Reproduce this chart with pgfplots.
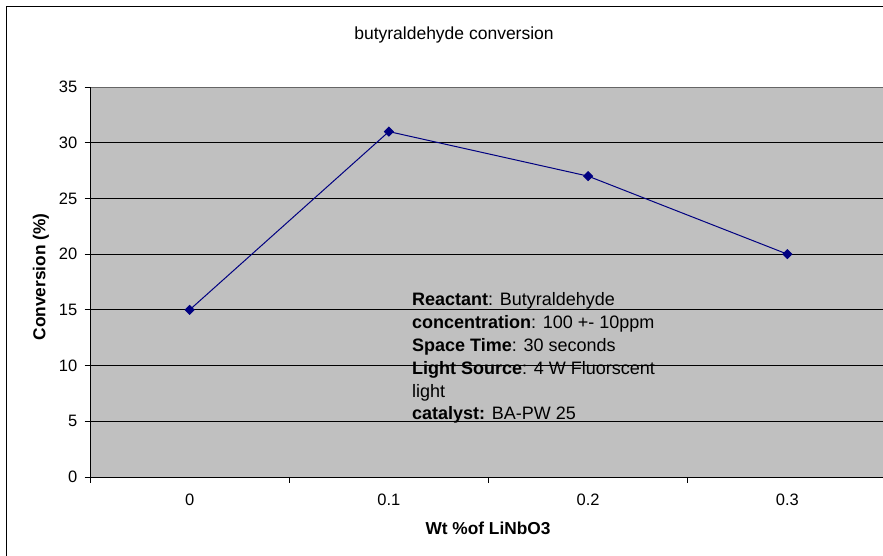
\documentclass[border=0pt]{standalone}
\usepackage{pgfplots}
\pgfplotsset{compat=1.18}
\usepackage{fontspec}
\setmainfont{Liberation Sans}
\definecolor{plotgray}{RGB}{192,192,192}
\definecolor{navyline}{RGB}{0,0,128}
\begin{document}
\begin{tikzpicture}[x=1pt,y=1pt]
\clip (0pt,0pt) rectangle (883pt,555pt);
\fill[white] (0pt,0pt) rectangle (883pt,555pt);
\draw[black, line width=1pt] (6pt,-20pt) -- (6pt,548pt) -- (950pt,548pt);
\begin{axis}[
  at={(90pt,78pt)}, anchor=south west,
  scale only axis, width=797pt, height=390pt,
  xmin=-0.5, xmax=3.5, ymin=0, ymax=35,
  axis background/.style={fill=plotgray},
  axis line style={draw=gray!80!black, line width=0.8pt},
  ytick={0,5,...,35},
  xtick={-0.5,0.5,1.5,2.5,3.5}, xticklabels={},
  extra x ticks={0,1,2,3},
  extra x tick labels={0,0.1,0.2,0.3},
  extra x tick style={major tick length=0pt, grid=none,
     xticklabel style={anchor=base, yshift=-28pt, inner sep=0pt}},
  ymajorgrids, major grid style={black, line width=0.8pt},
  tick align=outside, major tick length=5.5pt,
  tick style={black, line width=0.8pt},
  xtick pos=bottom, ytick pos=left,
  /pgf/number format/assume math mode=true,
  ticklabel style={font=\fontsize{16.5}{19}\selectfont},
  yticklabel style={inner sep=0pt, xshift=-7pt},
  clip=false,
]
\draw[black, line width=1pt] (rel axis cs:0,1) -- (rel axis cs:0,0) -- (rel axis cs:1,0);
\addplot[navyline, line width=1pt, mark=square*, mark size=3.1pt,
  mark options={fill=navyline, draw=navyline, rotate=45}]
  coordinates {(0,15) (1,31) (2,27) (3,20)};
\end{axis}
\node[anchor=base, font=\fontsize{17.5}{20}\selectfont] at (454pt,515pt) {butyraldehyde conversion};
\node[rotate=90, anchor=center, font=\fontsize{17.3}{20}\selectfont\bfseries] at (41pt,278pt) {Conversion (\%)};
\node[anchor=base, font=\fontsize{17.3}{20}\selectfont\bfseries] at (488pt,21pt) {Wt \%of LiNbO3};
\begin{scope}[every node/.style={anchor=base west, inner sep=0pt, font=\fontsize{18}{21}\selectfont}]
\node at (412pt,250pt) {\textbf{Reactant}: Butyraldehyde};
\node at (412pt,227pt) {\textbf{concentration}: 100 +- 10ppm};
\node at (412pt,204pt) {\textbf{Space Time}: 30 seconds};
\node at (412pt,181pt) {\textbf{Light Source}: 4 W Fluorscent};
\node at (412pt,158pt) {light};
\node at (412pt,136pt) {\textbf{catalyst:} BA-PW 25};
\end{scope}
\end{tikzpicture}
\end{document}
